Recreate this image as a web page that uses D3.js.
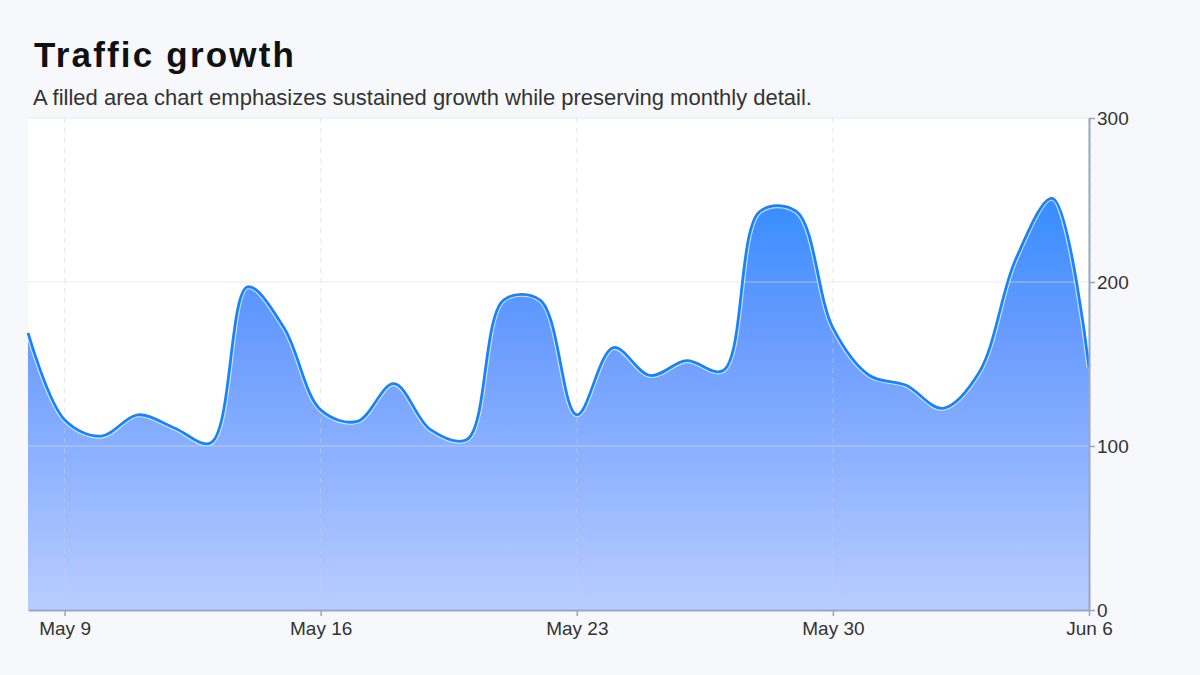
<!DOCTYPE html>
<html>
<head>
<meta charset="utf-8">
<script src="https://cdn.jsdelivr.net/npm/d3@7"></script>
<style>
  html, body { margin: 0; padding: 0; background: #f7f8fc; }
  svg { display: block; font-family: "Liberation Sans", Arial, sans-serif; }
</style>
</head>
<body>
<svg id="chart" width="1200" height="675"></svg>
<script>
// ---- data ----
const startDate = "2021-05-08";
const values = [169, 116, 106, 119, 111, 102, 197, 172, 122, 115, 138, 110, 104, 189, 189,
                119, 160, 143, 152, 146, 243, 243, 172, 143, 137, 123, 145, 214, 251, 148];
const yTicks = [0, 100, 200, 300];
const titleText = "Traffic growth";
const subtitleText = "A filled area chart emphasizes sustained growth while preserving monthly detail.";

const parse = d3.timeParse("%Y-%m-%d");
const d0 = parse(startDate);
const data = values.map((v, i) => ({ date: d3.timeDay.offset(d0, i), value: v }));

const svg = d3.select("#chart");
const m = { left: 28, right: 111, top: 118, bottom: 65 };
const W = 1200, H = 675;
const iw = W - m.left - m.right, ih = H - m.top - m.bottom;

const x = d3.scaleTime().domain(d3.extent(data, d => d.date)).range([m.left, m.left + iw]);
const y = d3.scaleLinear().domain([0, 300]).range([m.top + ih, m.top]);

// title
svg.append("text").attr("x", 34).attr("y", 67)
  .attr("font-size", 35).attr("font-weight", 700).attr("letter-spacing", 2.2)
  .attr("fill", "#111").text(titleText);
svg.append("text").attr("x", 33).attr("y", 105)
  .attr("font-size", 22).attr("fill", "#333").text(subtitleText);

// plot bg
svg.append("rect").attr("x", m.left).attr("y", m.top).attr("width", iw).attr("height", ih)
  .attr("fill", "#ffffff");

// gradient
const defs = svg.append("defs");
const grad = defs.append("linearGradient").attr("id", "g").attr("gradientUnits", "userSpaceOnUse")
  .attr("x1", 0).attr("x2", 0).attr("y1", y(300)).attr("y2", y(0));
grad.append("stop").attr("offset", "0%").attr("stop-color", "#1a84ff");
grad.append("stop").attr("offset", "45%").attr("stop-color", "#6a9cff");
grad.append("stop").attr("offset", "100%").attr("stop-color", "#bacdff");

const curve = d3.curveCatmullRom;
const area = d3.area().x(d => x(d.date)).y0(y(0)).y1(d => y(d.value)).curve(curve);
const line = d3.line().x(d => x(d.date)).y(d => y(d.value)).curve(curve);

svg.append("path").datum(data).attr("d", area).attr("fill", "url(#g)");

// grid (over area, subtle)
const xt = x.ticks(d3.timeWeek.every(1));
svg.append("g").selectAll("line").data(xt).join("line")
  .attr("x1", d => x(d)).attr("x2", d => x(d)).attr("y1", m.top).attr("y2", m.top + ih)
  .attr("stroke", "#c9d2e6").attr("stroke-opacity", 0.5).attr("stroke-dasharray", "5,5");
svg.append("g").selectAll("line").data(yTicks.filter(t => t > 0)).join("line")
  .attr("x1", m.left).attr("x2", m.left + iw).attr("y1", d => y(d)).attr("y2", d => y(d))
  .attr("stroke", "#d8deea").attr("stroke-opacity", 0.6);

// line
svg.append("path").datum(data).attr("d", line).attr("fill", "none")
  .attr("stroke", "#ffffff").attr("stroke-width", 5).attr("stroke-opacity", 0.7);
svg.append("path").datum(data).attr("d", line).attr("fill", "none")
  .attr("stroke", "#1784ff").attr("stroke-width", 2.8).attr("stroke-linejoin", "round");

// axes
const xAxis = d3.axisBottom(x).tickValues(xt).tickFormat(d3.timeFormat("%b %-d")).tickSize(6).tickSizeOuter(0);
const gx = svg.append("g").attr("transform", `translate(0,${m.top + ih})`).call(xAxis);
gx.select(".domain").attr("stroke", "#9aa6bd").attr("stroke-width", 2);
gx.selectAll(".tick line").attr("stroke", "#9aa6bd").attr("stroke-width", 1.5);
gx.selectAll(".tick text").attr("font-size", 19).attr("fill", "#333")
  .attr("font-family", "Liberation Sans, Arial, sans-serif").attr("dy", "0.85em");

const yAxis = d3.axisRight(y).tickValues(yTicks).tickSize(6).tickSizeOuter(0).tickPadding(2);
const gy = svg.append("g").attr("transform", `translate(${m.left + iw},0)`).call(yAxis);
gy.select(".domain").attr("stroke", "#9aa6bd").attr("stroke-width", 2);
gy.selectAll(".tick line").attr("stroke", "#9aa6bd").attr("stroke-width", 1.5);
gy.selectAll(".tick text").attr("font-size", 19).attr("fill", "#333")
  .attr("font-family", "Liberation Sans, Arial, sans-serif");
</script>
</body>
</html>
